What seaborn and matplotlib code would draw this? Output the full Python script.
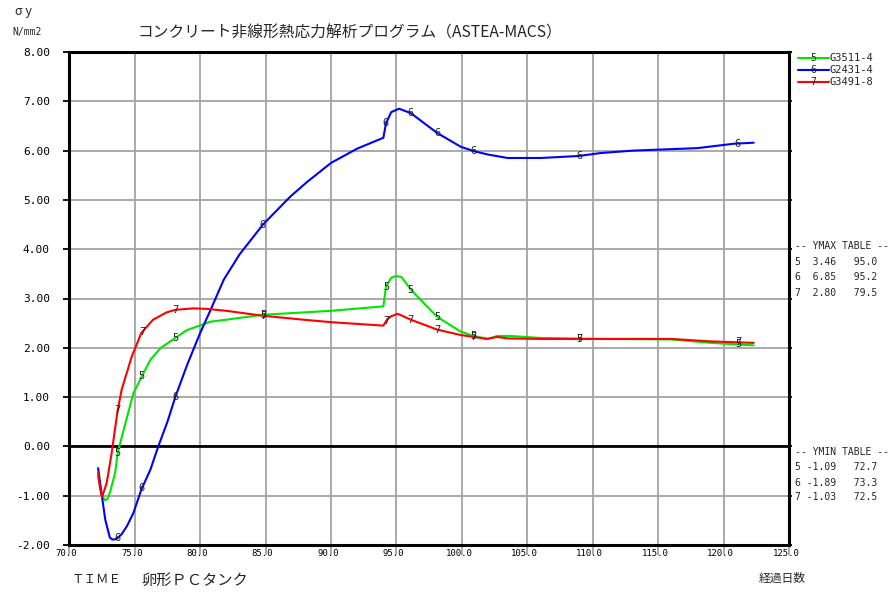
import numpy as np
import pandas as pd
import matplotlib
matplotlib.use("Agg")
import matplotlib.pyplot as plt
import seaborn as sns
from matplotlib.lines import Line2D
from matplotlib.transforms import ScaledTranslation

# ---- series -------------------------------------------------------------
series_ids = ["5", "6", "7"]
series_names = ["G3511-4", "G2431-4", "G3491-8"]
series_colors = ["#00e600", "#0000ff", "#ff0000"]

days_5 = [72.2, 72.45, 72.7, 72.9, 73.1, 73.5, 73.7, 74.1, 74.5, 74.9, 75.6, 76.2,
          77.0, 78.1, 79.0, 80.8, 82.0, 84.8, 90.0, 94.0, 94.2, 94.6, 95.0, 95.4,
          96.1, 98.1, 99.9, 100.9, 102.0, 102.7, 103.7, 106.0, 110.0, 116.0, 119.0, 122.3]
sy_5 = [-0.61, -0.95, -1.09, -1.07, -0.94, -0.54, -0.13, 0.28, 0.68, 1.08, 1.45, 1.76,
        2.00, 2.20, 2.36, 2.53, 2.57, 2.67, 2.75, 2.84, 3.24, 3.42, 3.46, 3.43,
        3.18, 2.63, 2.33, 2.24, 2.18, 2.24, 2.24, 2.20, 2.18, 2.17, 2.10, 2.05]

days_6 = [72.2, 72.5, 72.75, 73.1, 73.3, 73.6, 74.0, 74.4, 74.9, 75.5, 76.2, 76.8,
          77.5, 78.1, 79.0, 80.0, 80.8, 81.8, 83.0, 84.8, 86.9, 88.2, 90.0, 92.0,
          94.0, 94.2, 94.6, 95.2, 96.1, 97.0, 98.1, 99.9, 100.9, 102.0, 103.5, 106.0,
          108.9, 110.6, 113.1, 118.0, 120.8, 122.3]
sy_6 = [-0.44, -1.02, -1.49, -1.85, -1.89, -1.88, -1.78, -1.62, -1.35, -0.88, -0.47, 0.00,
        0.50, 1.00, 1.65, 2.30, 2.77, 3.38, 3.89, 4.50, 5.07, 5.37, 5.75, 6.04,
        6.26, 6.55, 6.78, 6.85, 6.76, 6.58, 6.36, 6.08, 5.99, 5.92, 5.85, 5.85,
        5.89, 5.95, 6.00, 6.05, 6.14, 6.16]

days_7 = [72.2, 72.35, 72.5, 72.86, 73.24, 73.7, 74.0, 74.77, 75.5, 76.4, 77.45, 78.1,
          79.0, 79.5, 80.5, 82.0, 84.8, 87.9, 90.0, 94.0, 94.3, 94.6, 95.1, 96.1,
          98.1, 99.9, 101.9, 102.7, 103.5, 106.0, 110.6, 116.0, 119.0, 122.3]
sy_7 = [-0.54, -0.85, -1.03, -0.74, -0.13, 0.74, 1.15, 1.82, 2.30, 2.57, 2.72, 2.77,
        2.79, 2.80, 2.79, 2.75, 2.65, 2.57, 2.52, 2.45, 2.58, 2.64, 2.69, 2.57,
        2.37, 2.26, 2.18, 2.22, 2.19, 2.18, 2.18, 2.18, 2.13, 2.10]

# days at which the series number is written on each curve
marker_days = [73.7, 75.55, 78.1, 84.8, 94.2, 96.1, 98.1, 100.9, 109.0, 121.1]

ymax_vals = [3.46, 6.85, 2.80]
ymax_days = [95.0, 95.2, 79.5]
ymin_vals = [-1.09, -1.89, -1.03]
ymin_days = [72.7, 73.3, 72.5]

x_ticks = np.arange(70, 126, 5)
y_ticks = np.arange(-2, 9, 1)

title = "コンクリート非線形熱応力解析プログラム（ASTEA-MACS）"
y_unit_top = "σ y"
y_unit = "N/mm2"
x_left = "ＴＩＭＥ"
subject = "卵形ＰＣタンク"
x_right = "経過日数"

# ---- build long-form table ----------------------------------------------
all_days = [days_5, days_6, days_7]
all_vals = [sy_5, sy_6, sy_7]
df = pd.concat(
    [pd.DataFrame({"day": d, "sy": v, "id": sid})
     for d, v, sid in zip(all_days, all_vals, series_ids)],
    ignore_index=True,
)

sns.set_theme(style="white")
plt.rcParams["font.family"] = ["Noto Sans CJK JP", "DejaVu Sans"]
MONO = ["DejaVu Sans Mono", "Noto Sans CJK JP"]

W, H = 893, 592
fig = plt.figure(figsize=(W / 100, H / 100), dpi=100)
fig.patch.set_facecolor("white")


def fx(px):
    return px / W


def fy(py):
    return 1 - py / H


left, right, top, bottom = 69.3, 789, 52, 545
ax = fig.add_axes([fx(left), fy(bottom), (right - left) / W, (bottom - top) / H])

sns.lineplot(data=df, x="day", y="sy", hue="id",
             palette=dict(zip(series_ids, series_colors)),
             sort=False, estimator=None, legend=False, linewidth=1.5, ax=ax, zorder=3)

ax.set_xlim(70, 125)
ax.set_ylim(-2, 8)
ax.set_xlabel("")
ax.set_ylabel("")

ax.grid(True, color="#a4a4a4", linewidth=1.3)
ax.set_axisbelow(True)
ax.axhline(0, color="black", linewidth=2.0, zorder=2)

for sp in ax.spines.values():
    sp.set_visible(True)
    sp.set_color("black")
    sp.set_linewidth(2.2)

ax.set_xticks(x_ticks)
ax.set_xticklabels([f"{v:.1f}" for v in x_ticks], family=MONO)
ax.set_yticks(y_ticks)
ax.set_yticklabels([f"{v:.2f}" for v in y_ticks], family=MONO)

ax.tick_params(axis="x", bottom=True, direction="out", length=7.5, width=1.3,
               color="#a4a4a4", pad=-4.5, labelsize=6.5, labelcolor="black")
ax.tick_params(axis="y", left=True, right=True, direction="out", length=4, width=1.3,
               color="black", pad=10, labelsize=8, labelcolor="black")
for tk in ax.yaxis.get_major_ticks():
    tk.tick2line.set_markersize(2)

shift = ScaledTranslation(-3 / 100, 0, fig.dpi_scale_trans)
for lab in ax.get_xticklabels():
    lab.set_transform(lab.get_transform() + shift)

# series numbers written along the curves
for d_arr, v_arr, sid in zip(all_days, all_vals, series_ids):
    for d in marker_days:
        ax.text(d, np.interp(d, d_arr, v_arr), sid, ha="center", va="center",
                fontsize=7.5, color="#222222", family=MONO, zorder=4)

# ---- legend (right margin) ----------------------------------------------
legend_rows = [58, 70, 82]
for row, sid, name, col in zip(legend_rows, series_ids, series_names, series_colors):
    fig.add_artist(Line2D([fx(798), fx(829)], [fy(row), fy(row)], color=col, lw=1.5))
    fig.text(fx(813.5), fy(row), sid, ha="center", va="center", fontsize=7,
             color="#222222", family=MONO)
    fig.text(fx(830), fy(row), name, ha="left", va="center", fontsize=7.5, family=MONO)

# ---- extreme value tables -----------------------------------------------
def draw_table(head, rows_y, vals, days):
    fig.text(fx(795), fy(rows_y[0]), head, ha="left", va="center", fontsize=7, family=MONO)
    for ry, sid, v, d in zip(rows_y[1:], series_ids, vals, days):
        fig.text(fx(795), fy(ry), f"{sid} {v:5.2f}   {d:4.1f}", ha="left", va="center",
                 fontsize=7, family=MONO)


draw_table("-- YMAX TABLE --", [246, 262, 277.5, 293], ymax_vals, ymax_days)
draw_table("-- YMIN TABLE --", [452, 467.5, 482.5, 497.5], ymin_vals, ymin_days)

# ---- titles and axis captions -------------------------------------------
fig.text(fx(350), fy(33), title, ha="center", va="center", fontsize=11.3)
fig.text(fx(15), fy(12), y_unit_top, ha="left", va="center", fontsize=9)
fig.text(fx(12), fy(32), y_unit, ha="left", va="center", fontsize=7, family=MONO)
fig.text(fx(72), fy(579), x_left, ha="left", va="center", fontsize=9)
fig.text(fx(141), fy(580), subject, ha="left", va="center", fontsize=11)
fig.text(fx(782), fy(578), x_right, ha="center", va="center", fontsize=8.5)

fig.savefig("out.png", dpi=100, facecolor="white")
